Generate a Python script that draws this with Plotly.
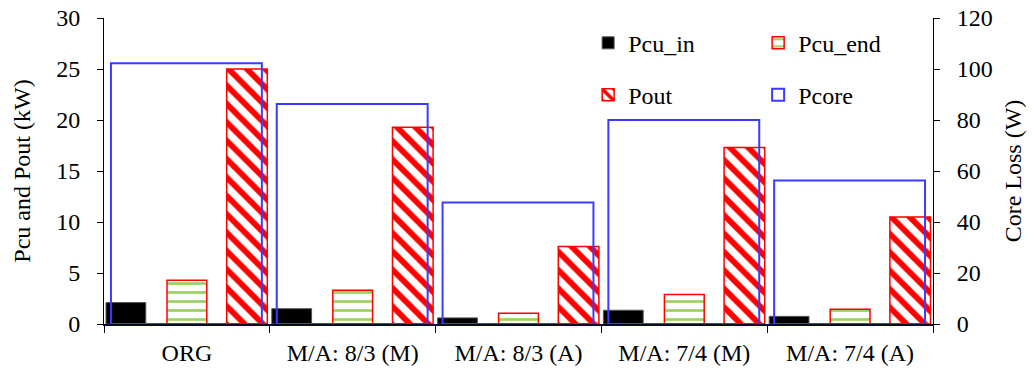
import plotly.graph_objects as go

categories = ["ORG", "M/A: 8/3 (M)", "M/A: 8/3 (A)", "M/A: 7/4 (M)", "M/A: 7/4 (A)"]
pcu_in = [2.1, 1.5, 0.6, 1.35, 0.75]
pcu_end = [4.3, 3.3, 1.05, 2.9, 1.45]
pout = [25.0, 19.3, 7.6, 17.3, 10.5]
pcore = [102.3, 86.3, 47.6, 80.0, 56.3]

FONT = "Liberation Serif"
RED = "#FF0000"
BLUE = "#3B3BFF"

fig = go.Figure()
fig.add_trace(go.Bar(
    x=categories, y=pcu_in, name="Pcu_in", legend="legend",
    offset=-0.488, width=0.24,
    marker=dict(color="black", line=dict(color="#555555", width=1)),
))
fig.add_trace(go.Bar(
    x=categories, y=pcu_end, name="Pcu_end", legend="legend",
    offset=-0.12, width=0.24,
    marker=dict(color="white", line=dict(color=RED, width=1.5),
                pattern=dict(shape="-", fgcolor="#9BD160", bgcolor="white",
                             fgopacity=1, size=9, solidity=0.3, fillmode="overlay")),
))
fig.add_trace(go.Bar(
    x=categories, y=pout, name="Pout", legend="legend2",
    offset=0.24, width=0.245,
    marker=dict(color="white", line=dict(color=RED, width=1.5),
                pattern=dict(shape="\\", fgcolor=RED, bgcolor="white",
                             fgopacity=1, size=13, solidity=0.45, fillmode="overlay")),
))
fig.add_trace(go.Bar(
    x=categories, y=pcore, name="Pcore", legend="legend2", yaxis="y2",
    offset=-0.458, width=0.91,
    marker=dict(color="rgba(0,0,0,0)", line=dict(color=BLUE, width=2)),
))

fig.update_layout(
    width=1034, height=376,
    margin=dict(l=104, r=101, t=18, b=52, autoexpand=False),
    paper_bgcolor="white", plot_bgcolor="white",
    barmode="overlay",
    font=dict(family=FONT, size=24, color="black"),
    xaxis=dict(
        type="category", range=[-0.5, 4.5],
        showline=True, linecolor="#0A0A30", linewidth=2,
        ticks="outside", tickson="boundaries", ticklen=7, tickcolor="black",
        tickfont=dict(family=FONT, size=24), ticklabelstandoff=6,
        showgrid=False, zeroline=False,
    ),
    yaxis=dict(
        range=[0, 30], dtick=5,
        showline=True, linecolor="black", linewidth=1,
        ticks="outside", ticklen=6, tickcolor="black",
        tickfont=dict(family=FONT, size=24), ticklabelstandoff=12,
        showgrid=False, zeroline=False,
        title=dict(text="Pcu and Pout (kW)", font=dict(family=FONT, size=24), standoff=18),
    ),
    yaxis2=dict(
        range=[0, 120], dtick=20, overlaying="y", side="right",
        showline=True, linecolor="black", linewidth=1,
        ticks="outside", ticklen=6, tickcolor="black",
        tickfont=dict(family=FONT, size=24), ticklabelstandoff=12,
        showgrid=False, zeroline=False,
        title=dict(text="Core Loss (W)", font=dict(family=FONT, size=24), standoff=12),
    ),
    legend=dict(
        orientation="h", x=0.584, y=0.991, xanchor="left", yanchor="top",
        entrywidth=125, entrywidthmode="pixels",
        font=dict(family=FONT, size=24), bgcolor="rgba(0,0,0,0)",
        traceorder="normal",
    ),
    legend2=dict(
        orientation="h", x=0.584, y=0.821, xanchor="left", yanchor="top",
        entrywidth=125, entrywidthmode="pixels",
        font=dict(family=FONT, size=24), bgcolor="rgba(0,0,0,0)",
        traceorder="normal",
    ),
)

fig.write_html("out.html")
